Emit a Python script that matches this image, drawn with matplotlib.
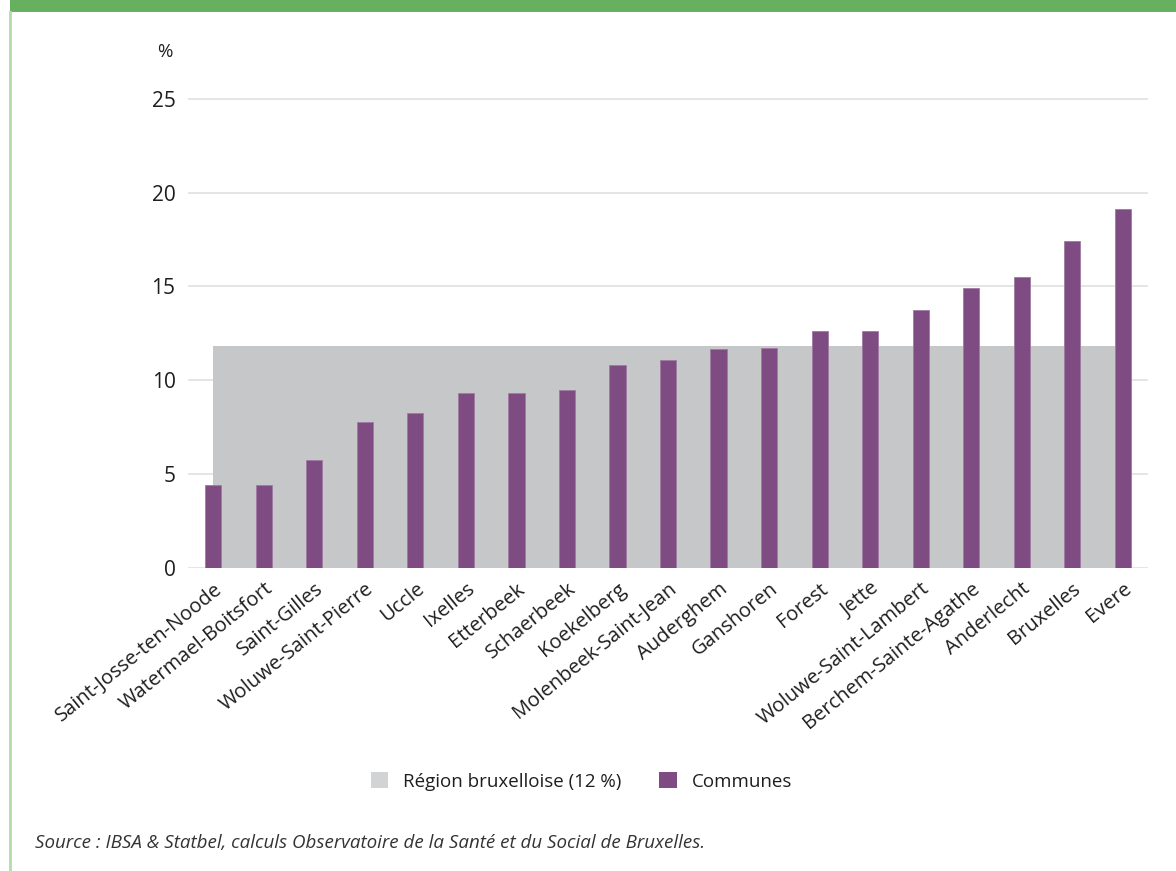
import matplotlib
matplotlib.use("Agg")
import matplotlib.pyplot as plt
from matplotlib.patches import Patch, Rectangle
from matplotlib.lines import Line2D
import numpy as np

plt.rcParams["font.family"] = ["Open Sans", "DejaVu Sans"]

communes = ["Saint-Josse-ten-Noode", "Watermael-Boitsfort", "Saint-Gilles",
            "Woluwe-Saint-Pierre", "Uccle", "Ixelles", "Etterbeek", "Schaerbeek",
            "Koekelberg", "Molenbeek-Saint-Jean", "Auderghem", "Ganshoren",
            "Forest", "Jette", "Woluwe-Saint-Lambert", "Berchem-Sainte-Agathe",
            "Anderlecht", "Bruxelles", "Evere"]
taux = [4.39, 4.41, 5.74, 7.77, 8.23, 9.3, 9.3, 9.5, 10.8, 11.1,
        11.65, 11.7, 12.6, 12.61, 13.73, 14.94, 15.51, 17.4, 19.14]
region = 11.8
yticks = [0, 5, 10, 15, 20, 25]

PURPLE, GREY, GRID, TXT = "#7f4b83", "#c6c7c9", "#dedede", "#1e1e1e"

fig = plt.figure(figsize=(11.76, 8.71), dpi=100)
ax = fig.add_axes([0.1599, 0.3482, 0.8163, 0.5489])

x = np.arange(len(communes))
ax.fill_between([x[0], x[-1]], 0, region, color=GREY, lw=0, zorder=1)
ax.bar(x, taux, width=0.32, color=PURPLE, edgecolor="#a07aa3", lw=0.6, zorder=3)

ax.set_xlim(-0.5, len(communes) - 0.5)
ax.set_ylim(0, 25.5)
ax.set_yticks(yticks)
ax.yaxis.grid(True, color=GRID, lw=1.1, zorder=0)
ax.set_axisbelow(True)
for s in ax.spines.values():
    s.set_visible(False)
ax.tick_params(axis="y", length=0, pad=9, labelsize=15, labelcolor=TXT)
ax.tick_params(axis="x", length=0, pad=8)
ax.set_xticks(x)
ax.set_xticklabels(communes, rotation=39, ha="right", va="top",
                   rotation_mode="anchor", fontsize=14.5, color=TXT)
ax.text(-0.0167, 1.079, "%", transform=ax.transAxes, ha="right", va="center",
        fontsize=13.5, color=TXT)

# legend
handles = [Patch(facecolor="#d2d3d5", edgecolor="none",
                 label=f"Région bruxelloise ({round(region)} %)"),
           Patch(facecolor=PURPLE, edgecolor="none", label="Communes")]
fig.legend(handles=handles, loc="center", bbox_to_anchor=(0.4945, 0.103),
           ncol=2, frameon=False, fontsize=13.5, handlelength=0.95,
           handleheight=0.95, handletextpad=0.8, columnspacing=2.0,
           labelcolor=TXT)

fig.text(0.03, 0.032, "Source : IBSA & Statbel, calculs Observatoire de la Santé et du Social de Bruxelles.",
         fontsize=13.5, style="italic", color="#333333", va="center")

# frame: green band on top, light green rule on the left
fig.add_artist(Rectangle((10 / 1176, 1 - 12 / 871), 1, 12 / 871,
                         transform=fig.transFigure, color="#66b05f", lw=0))
fig.add_artist(Line2D([10 / 1176, 10 / 1176], [0, 1 - 12 / 871],
                      transform=fig.transFigure, color="#b2dcaa", lw=2))

fig.savefig("out.png", dpi=100)
